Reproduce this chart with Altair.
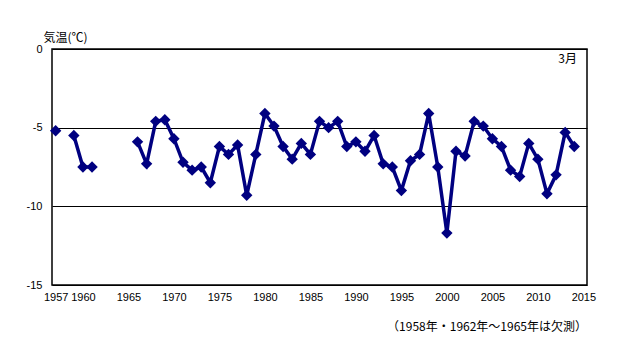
import altair as alt
import pandas as pd

years = list(range(1957, 2015))
temps = [
    -5.2, None, -5.5, -7.5, -7.5, None, None, None, None,
    -5.9, -7.3, -4.6, -4.5, -5.7, -7.2, -7.7, -7.5, -8.5, -6.2,
    -6.7, -6.1, -9.3, -6.7, -4.1, -4.9, -6.2, -7.0, -6.0, -6.7,
    -4.6, -5.0, -4.6, -6.2, -5.9, -6.5, -5.5, -7.3, -7.5, -9.0,
    -7.1, -6.7, -4.1, -7.5, -11.7, -6.5, -6.8, -4.6, -4.9, -5.7,
    -6.2, -7.7, -8.1, -6.0, -7.0, -9.2, -8.0, -5.3, -6.2,
]
x_ticks = [1957, 1960, 1965, 1970, 1975, 1980, 1985, 1990, 1995, 2000, 2005, 2010, 2015]
y_ticks = [-15, -10, -5, 0]
y_title = "気温(℃)"
month_label = "3月"
note = "（1958年・1962年～1965年は欠測）"

rows = []
seg = 0
prev = None
for yr, v in zip(years, temps):
    if v is None:
        prev = None
        continue
    if prev is None:
        seg += 1
    rows.append({"year": yr, "temp": v, "seg": seg})
    prev = v
df = pd.DataFrame(rows)

W, H = 535, 236
navy = "#000080"

x = alt.X("year:Q",
          scale=alt.Scale(domain=[1956.6, 2015.4], nice=False, zero=False),
          axis=alt.Axis(values=x_ticks, format="d", title=None, grid=False,
                        ticks=False, domain=False, labelPadding=6,
                        labelFont="Liberation Sans", labelFontSize=11,
                        labelColor="black", labelFlush=False))
y = alt.Y("temp:Q",
          scale=alt.Scale(domain=[-15, 0], nice=False),
          axis=alt.Axis(values=y_ticks, labelExpr="'' + datum.value",
                        title=y_title, titleAngle=0, titleX=-9, titleY=-5,
                        titleAlign="left", titleBaseline="bottom",
                        titleFont="Noto Sans CJK JP", titleFontSize=12,
                        titleFontWeight="normal", titleColor="black",
                        grid=True, gridColor="black", gridOpacity=1, gridWidth=1,
                        ticks=False, domain=False, labelPadding=10,
                        labelFont="Liberation Sans", labelFontSize=11,
                        labelColor="black"))

line = alt.Chart(df).mark_line(color=navy, strokeWidth=3.5).encode(
    x=x, y=y, detail="seg:N")
pts = alt.Chart(df).mark_point(shape="diamond", filled=True, size=130,
                               color=navy, opacity=1).encode(x=x, y=y)

month = alt.Chart(pd.DataFrame({"t": [month_label]})).mark_text(
    align="right", baseline="middle", font="Noto Sans CJK JP", fontSize=12,
    color="black").encode(x=alt.value(W - 10), y=alt.value(10), text="t:N")
foot = alt.Chart(pd.DataFrame({"t": [note]})).mark_text(
    align="right", baseline="middle", font="Noto Sans CJK JP", fontSize=12,
    color="black").encode(x=alt.value(W), y=alt.value(H + 42), text="t:N")

chart = alt.layer(line, pts, month, foot).properties(
    width=W, height=H,
    autosize=alt.AutoSizeParams(type="none"),
    padding={"left": 44, "top": 41, "right": 30, "bottom": 68},
).configure_view(stroke="black", strokeWidth=1.5)

chart.save("out.html", embed_options={"renderer": "svg", "actions": False})
